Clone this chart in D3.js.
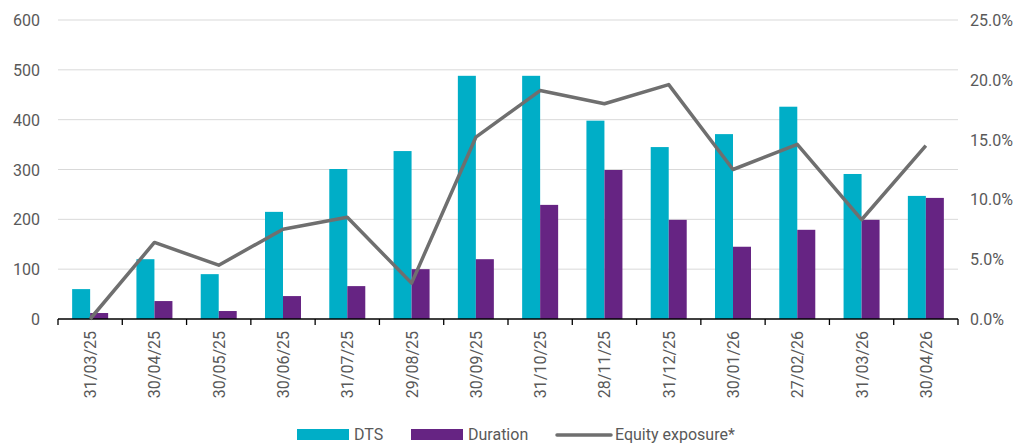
<!DOCTYPE html>
<html>
<head>
<meta charset="utf-8">
<script src="https://cdn.jsdelivr.net/npm/d3@7"></script>
<style>
  body { margin: 0; background: #fff; }
  text { font-family: "Liberation Sans Narrow", "Roboto", sans-serif; fill: #595959; }
</style>
</head>
<body>
<script>
// chart data
const dates = ["31/03/25", "30/04/25", "30/05/25", "30/06/25", "31/07/25", "29/08/25", "30/09/25",
               "31/10/25", "28/11/25", "31/12/25", "30/01/26", "27/02/26", "31/03/26", "30/04/26"];
const dts = [60, 120, 90, 215, 301, 337, 488, 488, 398, 345, 371, 426, 291, 247];
const duration = [12, 36, 16, 46, 66, 100, 120, 229, 299, 199, 145, 179, 199, 243];
const equity = [0.0, 6.4, 4.5, 7.5, 8.5, 3.0, 15.2, 19.1, 18.0, 19.6, 12.5, 14.6, 8.3, 14.5];
const leftTicks = [0, 100, 200, 300, 400, 500, 600];
const rightTicks = [0, 5, 10, 15, 20, 25];

const width = 1017, height = 443;
const plotLeft = 58, plotRight = 958, plotTop = 20, plotBottom = 319;

const svg = d3.select("body").append("svg")
    .attr("width", width)
    .attr("height", height);

const x = d3.scaleBand().domain(dates).range([plotLeft, plotRight]);
const y = d3.scaleLinear().domain([0, 600]).range([plotBottom, plotTop]);
const y2 = d3.scaleLinear().domain([0, 25]).range([plotBottom, plotTop]);

// gridlines
svg.selectAll("line.grid")
   .data(leftTicks.slice(1))
   .enter().append("line")
   .attr("x1", plotLeft).attr("x2", plotRight)
   .attr("y1", d => y(d)).attr("y2", d => y(d))
   .style("stroke", "#d9d9d9")
   .style("stroke-width", 1);

// left axis labels
svg.selectAll("text.yl")
   .data(leftTicks)
   .enter().append("text")
   .attr("x", 40).attr("y", d => y(d) + 6)
   .attr("text-anchor", "end")
   .style("font-size", "16px")
   .text(d => d);

// right axis labels
svg.selectAll("text.yr")
   .data(rightTicks)
   .enter().append("text")
   .attr("x", 970).attr("y", d => y2(d) + 6)
   .style("font-size", "16px")
   .text(d => d.toFixed(1) + "%");

const bw = 18;

svg.selectAll("rect.dts")
   .data(dates)
   .enter().append("rect")
   .attr("x", d => x(d) + x.bandwidth() / 2 - bw)
   .attr("y", (d, i) => y(dts[i]))
   .attr("width", bw)
   .attr("height", (d, i) => plotBottom - y(dts[i]))
   .style("fill", "#00AEC7");

svg.selectAll("rect.dur")
   .data(dates)
   .enter().append("rect")
   .attr("x", d => x(d) + x.bandwidth() / 2)
   .attr("y", (d, i) => y(duration[i]))
   .attr("width", bw)
   .attr("height", (d, i) => plotBottom - y(duration[i]))
   .style("fill", "#662483");

// x axis
const xAxis = svg.append("g")
    .attr("transform", `translate(0,${plotBottom})`);
xAxis.append("line")
    .attr("x1", plotLeft).attr("x2", plotRight)
    .style("stroke", "#000").style("stroke-width", 1.3);
xAxis.selectAll("line.tick")
    .data(dates.concat(["end"]))
    .enter().append("line")
    .attr("x1", (d, i) => plotLeft + i * x.step())
    .attr("x2", (d, i) => plotLeft + i * x.step())
    .attr("y1", 0).attr("y2", 6)
    .style("stroke", "#000").style("stroke-width", 1.3);
xAxis.selectAll("text")
    .data(dates)
    .enter().append("text")
    .attr("transform", d => `translate(${x(d) + x.bandwidth() / 2 + 6},12) rotate(-90)`)
    .attr("text-anchor", "end")
    .style("font-size", "16px")
    .text(d => d);

// equity line
const line = d3.line()
    .x((d, i) => x(dates[i]) + x.bandwidth() / 2)
    .y(d => y2(d));
svg.append("path")
   .datum(equity)
   .attr("d", line)
   .style("fill", "none")
   .style("stroke", "#6f6f6f")
   .style("stroke-width", 3.5)
   .style("stroke-linejoin", "round");

// legend
const legend = svg.append("g").attr("transform", "translate(0,434)");
legend.append("rect").attr("x", 297).attr("y", -5).attr("width", 52).attr("height", 11).style("fill", "#00AEC7");
legend.append("text").attr("x", 354).attr("y", 6).style("font-size", "16px").text("DTS");
legend.append("rect").attr("x", 411).attr("y", -5).attr("width", 52).attr("height", 11).style("fill", "#662483");
legend.append("text").attr("x", 468).attr("y", 6).style("font-size", "16px").text("Duration");
legend.append("line").attr("x1", 557).attr("x2", 611).attr("y1", 1).attr("y2", 1)
      .style("stroke", "#6f6f6f").style("stroke-width", 3.5).style("stroke-linecap", "round");
legend.append("text").attr("x", 615).attr("y", 6).style("font-size", "16px").text("Equity exposure*");
</script>
</body>
</html>
